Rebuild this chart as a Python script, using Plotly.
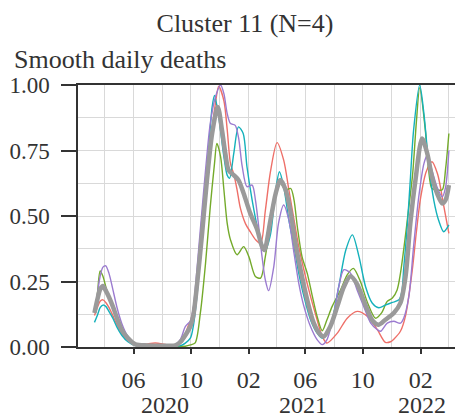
import plotly.graph_objects as go

# ---------------- data ----------------
red_dates = ["2020-03-10","2020-03-16","2020-03-22","2020-03-28","2020-04-03","2020-04-10","2020-04-18","2020-04-27","2020-05-07","2020-05-20","2020-06-05","2020-07-01","2020-07-17","2020-08-01","2020-08-18","2020-08-29","2020-09-09","2020-09-19","2020-09-25","2020-10-02","2020-10-12","2020-10-23","2020-11-03","2020-11-13","2020-11-22","2020-11-29","2020-12-10","2020-12-17","2020-12-24","2020-12-31","2021-01-07","2021-01-14","2021-01-25","2021-02-04","2021-02-15","2021-02-26","2021-03-08","2021-03-19","2021-04-02","2021-04-16","2021-04-27","2021-05-08","2021-05-18","2021-05-29","2021-06-12","2021-06-26","2021-07-07","2021-07-17","2021-08-08","2021-08-29","2021-09-19","2021-10-11","2021-11-01","2021-11-18","2021-11-29","2021-12-06","2021-12-20","2021-12-31","2022-01-14","2022-01-23","2022-02-01","2022-02-13","2022-02-25","2022-03-09","2022-03-22","2022-04-02"]
red_vals = [0.12,0.15,0.175,0.18,0.17,0.15,0.12,0.085,0.05,0.025,0.008,0.012,0.015,0.012,0.006,0.01,0.02,0.05,0.08,0.11,0.22,0.40,0.60,0.80,0.93,0.995,0.94,0.83,0.70,0.66,0.60,0.53,0.47,0.44,0.41,0.395,0.52,0.67,0.78,0.713,0.60,0.485,0.383,0.294,0.193,0.104,0.04,0.015,0.053,0.11,0.136,0.117,0.066,0.018,0.02,0.03,0.06,0.12,0.29,0.44,0.57,0.67,0.707,0.66,0.54,0.434]

green_dates = ["2020-03-10","2020-03-16","2020-03-22","2020-03-28","2020-04-03","2020-04-10","2020-04-18","2020-04-27","2020-05-07","2020-05-20","2020-06-05","2020-07-01","2020-08-01","2020-09-19","2020-09-30","2020-10-10","2020-10-21","2020-11-01","2020-11-11","2020-11-20","2020-11-25","2020-12-03","2020-12-10","2020-12-17","2020-12-24","2021-01-07","2021-01-21","2021-02-01","2021-02-15","2021-02-26","2021-03-08","2021-03-19","2021-03-30","2021-04-09","2021-04-20","2021-05-01","2021-05-08","2021-05-15","2021-05-25","2021-06-05","2021-06-16","2021-06-26","2021-07-07","2021-07-17","2021-07-28","2021-08-15","2021-08-29","2021-09-11","2021-09-26","2021-10-11","2021-10-28","2021-11-10","2021-11-22","2021-12-03","2021-12-13","2021-12-20","2021-12-29","2022-01-06","2022-01-15","2022-01-23","2022-01-30","2022-02-11","2022-02-18","2022-02-25","2022-03-08","2022-03-19","2022-03-26","2022-04-02"]
green_vals = [0.13,0.20,0.29,0.27,0.23,0.19,0.15,0.10,0.06,0.03,0.01,0.004,0.003,0.003,0.008,0.016,0.13,0.32,0.535,0.70,0.777,0.726,0.60,0.472,0.409,0.352,0.383,0.345,0.269,0.263,0.345,0.472,0.573,0.625,0.60,0.605,0.561,0.459,0.345,0.282,0.193,0.117,0.062,0.104,0.155,0.218,0.275,0.30,0.25,0.17,0.11,0.13,0.174,0.187,0.218,0.28,0.40,0.52,0.66,0.86,0.99,0.827,0.675,0.605,0.60,0.60,0.68,0.815]

cyan_dates = ["2020-03-10","2020-03-16","2020-03-22","2020-03-28","2020-04-03","2020-04-10","2020-04-18","2020-04-27","2020-05-07","2020-05-20","2020-06-05","2020-07-01","2020-08-01","2020-08-29","2020-09-09","2020-09-19","2020-09-30","2020-10-06","2020-10-14","2020-10-28","2020-11-08","2020-11-15","2020-11-20","2020-11-29","2020-12-10","2020-12-17","2020-12-22","2020-12-31","2021-01-10","2021-01-20","2021-01-28","2021-02-08","2021-02-19","2021-03-01","2021-03-08","2021-03-19","2021-03-30","2021-04-07","2021-04-16","2021-04-27","2021-05-08","2021-05-18","2021-05-29","2021-06-12","2021-06-26","2021-07-07","2021-07-17","2021-07-28","2021-08-11","2021-08-26","2021-09-09","2021-09-23","2021-10-07","2021-10-21","2021-11-04","2021-11-18","2021-12-03","2021-12-17","2021-12-23","2021-12-27","2022-01-03","2022-01-10","2022-01-17","2022-01-30","2022-02-08","2022-02-18","2022-03-01","2022-03-11","2022-03-22","2022-04-02"]
cyan_vals = [0.094,0.12,0.15,0.16,0.155,0.135,0.11,0.075,0.045,0.02,0.005,0.003,0.003,0.003,0.005,0.015,0.035,0.08,0.20,0.51,0.764,0.916,0.96,0.878,0.726,0.656,0.644,0.739,0.84,0.815,0.688,0.561,0.459,0.396,0.37,0.43,0.60,0.669,0.612,0.485,0.383,0.282,0.193,0.104,0.053,0.034,0.053,0.104,0.23,0.37,0.428,0.345,0.23,0.168,0.15,0.16,0.17,0.18,0.21,0.30,0.447,0.637,0.827,1.0,0.89,0.70,0.56,0.485,0.44,0.466]

purple_dates = ["2020-03-10","2020-03-16","2020-03-22","2020-03-28","2020-04-03","2020-04-10","2020-04-18","2020-04-27","2020-05-07","2020-05-20","2020-06-05","2020-07-01","2020-08-01","2020-08-29","2020-09-09","2020-09-19","2020-09-30","2020-10-06","2020-10-12","2020-10-21","2020-11-01","2020-11-11","2020-11-22","2020-12-03","2020-12-10","2020-12-17","2020-12-24","2021-01-03","2021-01-10","2021-01-18","2021-01-28","2021-02-08","2021-02-15","2021-02-22","2021-03-01","2021-03-08","2021-03-15","2021-03-26","2021-04-05","2021-04-16","2021-04-27","2021-05-08","2021-05-18","2021-05-29","2021-06-12","2021-06-26","2021-07-07","2021-07-17","2021-08-01","2021-08-11","2021-08-22","2021-09-05","2021-09-19","2021-10-03","2021-10-18","2021-11-01","2021-11-08","2021-11-22","2021-12-06","2021-12-20","2021-12-27","2022-01-07","2022-01-17","2022-01-28","2022-02-08","2022-02-15","2022-02-25","2022-03-08","2022-03-19","2022-03-26","2022-04-02"]
purple_vals = [0.14,0.20,0.27,0.305,0.31,0.28,0.22,0.15,0.09,0.04,0.012,0.005,0.004,0.01,0.03,0.078,0.10,0.15,0.26,0.45,0.675,0.853,0.954,1.0,0.967,0.891,0.853,0.846,0.80,0.688,0.612,0.618,0.561,0.459,0.345,0.256,0.215,0.307,0.472,0.542,0.485,0.358,0.244,0.155,0.078,0.028,0.009,0.028,0.13,0.23,0.295,0.282,0.218,0.155,0.091,0.066,0.06,0.091,0.098,0.091,0.11,0.193,0.383,0.573,0.70,0.732,0.675,0.61,0.573,0.61,0.75]

mean_dates = ["2020-03-10","2020-03-16","2020-03-22","2020-03-28","2020-04-03","2020-04-10","2020-04-18","2020-04-27","2020-05-07","2020-05-20","2020-06-05","2020-07-01","2020-08-01","2020-08-29","2020-09-09","2020-09-19","2020-09-30","2020-10-06","2020-10-14","2020-10-25","2020-11-04","2020-11-15","2020-11-27","2020-12-06","2020-12-13","2020-12-20","2020-12-31","2021-01-10","2021-01-21","2021-02-04","2021-02-19","2021-03-01","2021-03-06","2021-03-19","2021-03-30","2021-04-09","2021-04-20","2021-05-01","2021-05-11","2021-05-22","2021-06-05","2021-06-19","2021-07-03","2021-07-10","2021-07-24","2021-08-08","2021-08-22","2021-09-05","2021-09-19","2021-10-07","2021-10-22","2021-11-04","2021-11-18","2021-12-06","2021-12-20","2021-12-31","2022-01-10","2022-01-21","2022-02-04","2022-02-15","2022-02-25","2022-03-08","2022-03-19","2022-03-26","2022-04-02"]
mean_vals = [0.13,0.18,0.22,0.233,0.215,0.19,0.155,0.11,0.065,0.034,0.01,0.006,0.005,0.006,0.02,0.045,0.08,0.12,0.24,0.44,0.637,0.815,0.916,0.827,0.739,0.675,0.656,0.637,0.586,0.51,0.447,0.383,0.37,0.485,0.586,0.637,0.60,0.51,0.396,0.294,0.18,0.091,0.047,0.04,0.078,0.155,0.23,0.27,0.24,0.16,0.10,0.085,0.104,0.13,0.168,0.27,0.47,0.637,0.796,0.739,0.65,0.586,0.548,0.561,0.618]

tick_dates = ["2020-06-01","2020-10-01","2021-02-01","2021-06-01","2021-10-01","2022-02-01"]
tick_text = ["06","10","02","06","10","02"]
year_dates = ["2020-08-06","2021-05-27","2022-02-03"]
year_text = ["2020","2021","2022"]
y_ticks = [0, 0.25, 0.5, 0.75, 1.0]
y_tick_text = ["0.00","0.25","0.50","0.75","1.00"]

# ---------------- figure ----------------
# The page body adds an 8 px offset, so the figure is 8 px smaller each way.
FONT = "Liberation Serif"
TXT = "#333333"
GRID = "#d9d9d9"
W, H = 455, 411
ML, MT, MB = 70, 77, 72
PW, PH = W - ML, H - MT - MB

series = [
    (red_dates, red_vals, "#ee6f68"),
    (green_dates, green_vals, "#74aa2b"),
    (cyan_dates, cyan_vals, "#14b1bb"),
    (purple_dates, purple_vals, "#9b7bd0"),
]

fig = go.Figure()
for d, v, c in series:
    fig.add_trace(go.Scatter(x=d, y=v, mode="lines",
                             line=dict(color=c, width=1.4, shape="spline", smoothing=0.8),
                             showlegend=False, hoverinfo="skip"))
fig.add_trace(go.Scatter(x=mean_dates, y=mean_vals, mode="lines",
                         line=dict(color="#9a9a9a", width=4.5, shape="spline", smoothing=0.8),
                         showlegend=False, hoverinfo="skip"))

for d, t in zip(year_dates, year_text):
    fig.add_annotation(x=d, xref="x", y=-58 / PH, yref="paper", text=t,
                       showarrow=False, xanchor="center", yanchor="middle",
                       font=dict(family=FONT, size=24, color=TXT))

fig.add_annotation(x=(4 - ML) / PW, xref="paper", y=(PH + MT - 52) / PH, yref="paper",
                   text="Smooth daily deaths", showarrow=False,
                   xanchor="left", yanchor="middle",
                   font=dict(family=FONT, size=26, color=TXT))

fig.update_layout(
    width=W, height=H,
    margin=dict(l=ML, r=0, t=MT, b=MB, autoexpand=False),
    paper_bgcolor="white", plot_bgcolor="white",
    title=dict(text="Cluster 11 (N=4)", x=237 / W, xref="container", xanchor="center",
               y=1 - 15 / H, yref="container", yanchor="middle",
               font=dict(family=FONT, size=26, color=TXT)),
    font=dict(family=FONT, color=TXT),
)

fig.update_xaxes(
    type="date", range=["2020-02-04", "2022-05-02"],
    tickmode="array", tickvals=tick_dates, ticktext=tick_text,
    ticks="outside", ticklen=5, tickwidth=1.5, tickcolor=TXT,
    ticklabelstandoff=5,
    tickfont=dict(family=FONT, size=24, color=TXT),
    showgrid=True, gridcolor=GRID, gridwidth=1.3,
    minor=dict(dtick="M2", tick0="2020-02-01", showgrid=True, gridcolor=GRID, gridwidth=1.3, ticks=""),
    showline=True, linecolor=TXT, linewidth=1.5, mirror=True,
    zeroline=False,
)
fig.update_yaxes(
    range=[0, 1], tickmode="array", tickvals=y_ticks, ticktext=y_tick_text,
    ticks="outside", ticklen=15, tickwidth=1.5, tickcolor=TXT,
    ticklabelstandoff=7,
    tickfont=dict(family=FONT, size=23, color=TXT),
    showgrid=True, gridcolor=GRID, gridwidth=1.3,
    minor=dict(dtick=0.125, tick0=0, showgrid=True, gridcolor=GRID, gridwidth=1.3, ticks=""),
    showline=True, linecolor=TXT, linewidth=1.5,
    zeroline=False,
)

fig.write_html("out.html")
